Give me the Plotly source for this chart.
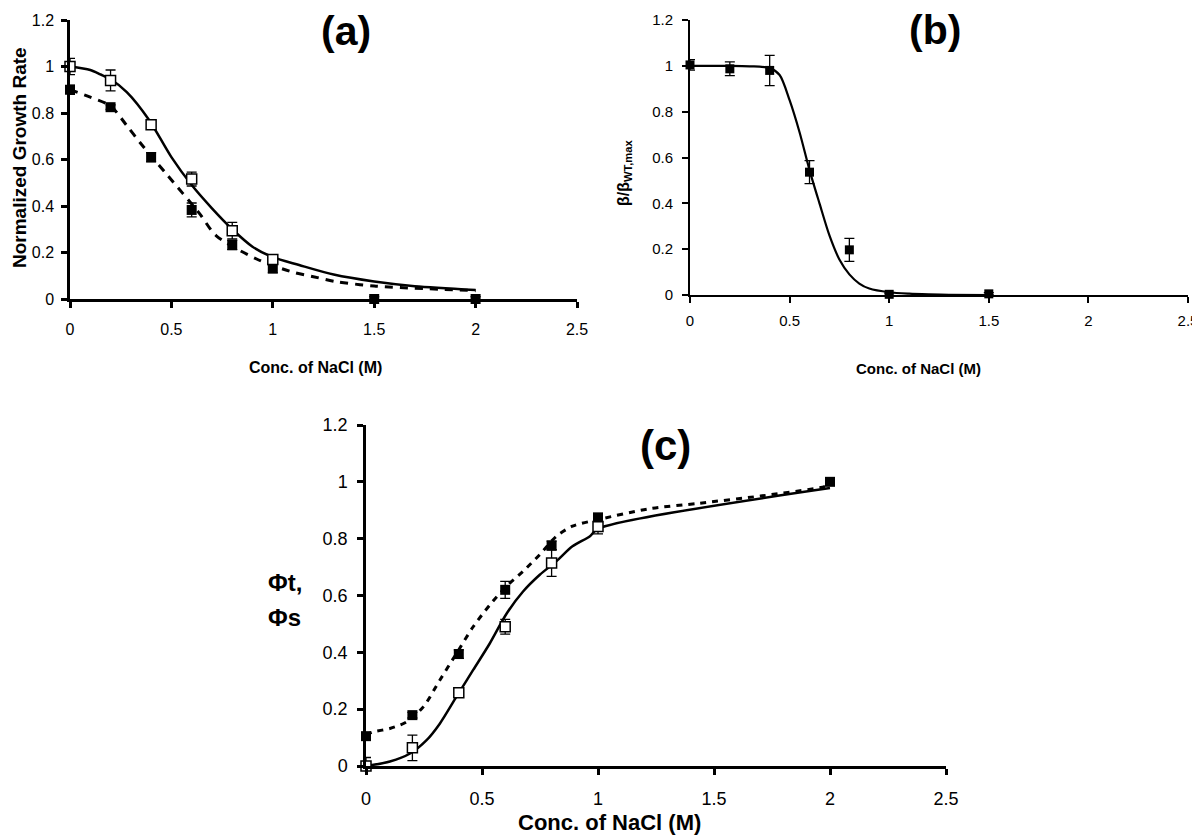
import plotly.graph_objects as go

# ---------------- data ----------------
# Panel (a)
a_x_open = [0, 0.2, 0.4, 0.6, 0.8, 1.0]
a_y_open = [1.0, 0.94, 0.75, 0.516, 0.294, 0.17]
a_e_open = [0.035, 0.045, 0.015, 0.03, 0.036, 0.02]
a_x_fill = [0, 0.2, 0.4, 0.6, 0.8, 1.0, 1.5, 2.0]
a_y_fill = [0.90, 0.825, 0.61, 0.383, 0.232, 0.132, 0.0, 0.0]
a_e_fill = [0.02, 0.01, 0.02, 0.03, 0.02, 0.02, 0.01, 0.01]
a_fit_solid_x = [0, 0.1, 0.15, 0.2, 0.28, 0.39, 0.5, 0.6, 0.7, 0.8, 0.9, 1.0, 1.13, 1.3, 1.5, 1.7, 2.0]
a_fit_solid_y = [1.0, 0.985, 0.966, 0.945, 0.89, 0.77, 0.61, 0.49, 0.39, 0.30, 0.225, 0.18, 0.146, 0.105, 0.075, 0.055, 0.039]
a_fit_dash_x = [0, 0.1, 0.2, 0.28, 0.344, 0.475, 0.64, 0.72, 0.92, 1.1, 1.2, 1.31, 1.5, 2.0]
a_fit_dash_y = [0.90, 0.868, 0.83, 0.746, 0.674, 0.538, 0.366, 0.273, 0.172, 0.115, 0.096, 0.075, 0.056, 0.036]

# Panel (b)
b_x = [0, 0.2, 0.4, 0.6, 0.8, 1.0, 1.5]
b_y = [1.004, 0.987, 0.98, 0.536, 0.197, 0.003, 0.005]
b_e = [0.023, 0.03, 0.066, 0.05, 0.05, 0.005, 0.005]
b_fit_x = [0, 0.2, 0.3, 0.4, 0.45, 0.5, 0.55, 0.6, 0.65, 0.7, 0.75, 0.8, 0.85, 0.9, 1.0, 1.1, 1.2, 1.3, 1.5]
b_fit_y = [1.0, 1.0, 0.998, 0.99, 0.96, 0.85, 0.71, 0.545, 0.40, 0.26, 0.155, 0.09, 0.05, 0.028, 0.012, 0.006, 0.003, 0.001, 0.0]

# Panel (c)
c_x_open = [0, 0.2, 0.4, 0.6, 0.8, 1.0]
c_y_open = [0.0, 0.064, 0.258, 0.49, 0.714, 0.843]
c_e_open = [0.03, 0.045, 0.015, 0.026, 0.047, 0.026]
c_x_fill = [0, 0.2, 0.4, 0.6, 0.8, 1.0, 2.0]
c_y_fill = [0.105, 0.179, 0.394, 0.62, 0.776, 0.875, 1.0]
c_e_fill = [0.01, 0.01, 0.015, 0.03, 0.015, 0.01, 0.01]
c_fit_solid_x = [0, 0.103, 0.19, 0.26, 0.318, 0.39, 0.462, 0.534, 0.605, 0.677, 0.749, 0.82, 0.89, 0.964, 1.0, 2.0]
c_fit_solid_y = [0.0, 0.016, 0.044, 0.09, 0.149, 0.244, 0.338, 0.432, 0.535, 0.614, 0.673, 0.72, 0.773, 0.808, 0.835, 0.978]
c_fit_dot_x = [0, 0.03, 0.103, 0.175, 0.247, 0.318, 0.39, 0.462, 0.534, 0.605, 0.677, 0.749, 0.82, 0.89, 1.0, 1.22, 1.44, 1.7, 1.96, 2.0]
c_fit_dot_y = [0.11, 0.12, 0.132, 0.155, 0.208, 0.302, 0.396, 0.49, 0.567, 0.632, 0.685, 0.744, 0.808, 0.844, 0.867, 0.905, 0.925, 0.95, 0.98, 0.99]

x_ticks = [0, 0.5, 1, 1.5, 2, 2.5]
x_tick_text = ["0", "0.5", "1", "1.5", "2", "2.5"]
y_ticks = [0, 0.2, 0.4, 0.6, 0.8, 1, 1.2]
y_tick_text = ["0", "0.2", "0.4", "0.6", "0.8", "1", "1.2"]

FONT = "Liberation Sans, Arial, Helvetica, sans-serif"
NARROW = "Liberation Sans Narrow, Arial Narrow, Liberation Sans, Arial, sans-serif"

fig = go.Figure()


def curve(x, y, xa, ya, dash="solid", width=2.5):
    fig.add_trace(go.Scatter(x=x, y=y, mode="lines", xaxis=xa, yaxis=ya,
                             line=dict(color="black", width=width, dash=dash, shape="spline", smoothing=0.8),
                             hoverinfo="skip", cliponaxis=False))


def points(x, y, e, xa, ya, open_=False, size=10, cap=5):
    fig.add_trace(go.Scatter(x=x, y=y, mode="markers", xaxis=xa, yaxis=ya,
                             error_y=dict(type="data", array=e, visible=True, color="black",
                                          thickness=1.3, width=cap),
                             marker=dict(symbol="square", size=size,
                                         color="white" if open_ else "black",
                                         line=dict(color="black", width=1.5 if open_ else 0)),
                             cliponaxis=False))


# (a)
curve(a_fit_dash_x, a_fit_dash_y, "x", "y", dash="8px,7px", width=3)
curve(a_fit_solid_x, a_fit_solid_y, "x", "y")
points(a_x_fill, a_y_fill, a_e_fill, "x", "y")
points(a_x_open, a_y_open, a_e_open, "x", "y", open_=True)

# (b)
curve(b_fit_x, b_fit_y, "x2", "y2", width=2.2)
points(b_x, b_y, b_e, "x2", "y2", size=9)

# (c)
curve(c_fit_dot_x, c_fit_dot_y, "x3", "y3", dash="6px,6px", width=3)
curve(c_fit_solid_x, c_fit_solid_y, "x3", "y3", width=2.5)
points(c_x_open, c_y_open, c_e_open, "x3", "y3", open_=True, size=10)
points(c_x_fill, c_y_fill, c_e_fill, "x3", "y3", size=10)


def xaxis(domain, anchor, fs, lw, standoff):
    return dict(domain=domain, anchor=anchor, range=[0, 2.5], tickvals=x_ticks, ticktext=x_tick_text,
                showline=True, linecolor="black", linewidth=lw, ticks="outside", ticklen=6,
                tickwidth=lw, tickcolor="black", showgrid=False, zeroline=False, automargin=False,
                tickfont=dict(family=FONT, size=fs, color="black"), ticklabelstandoff=standoff,
                fixedrange=True)


def yaxis(domain, anchor, fs, lw, standoff):
    return dict(domain=domain, anchor=anchor, range=[0, 1.2], tickvals=y_ticks, ticktext=y_tick_text,
                showline=True, linecolor="black", linewidth=lw, ticks="outside", ticklen=6,
                tickwidth=lw, tickcolor="black", showgrid=False, zeroline=False, automargin=False,
                tickfont=dict(family=FONT, size=fs, color="black"), ticklabelstandoff=standoff,
                fixedrange=True)


W, H = 1200, 836
OFF = 8  # page offset of the figure inside the window


def fx(px):
    return (px - OFF) / W


def fy(py):
    return 1 - (py - OFF) / H


fig.update_layout(
    width=W, height=H, margin=dict(l=0, r=0, t=0, b=0, autoexpand=False),
    paper_bgcolor="white", plot_bgcolor="white", showlegend=False,
    xaxis=xaxis([fx(70), fx(577)], "y", 16, 2.5, 8),
    yaxis=yaxis([fy(299), fy(20)], "x", 16, 2.5, 4),
    xaxis2=xaxis([fx(690), fx(1188)], "y2", 15, 1.8, 5),
    yaxis2=yaxis([fy(295), fy(20)], "x2", 15, 1.8, 6),
    xaxis3=xaxis([fx(366), fx(946)], "y3", 18, 2.5, 9),
    yaxis3=yaxis([fy(766), fy(425)], "x3", 18, 2.5, 6),
)


def ann(text, x, y, size, angle=0, family=FONT, xanchor="center"):
    fig.add_annotation(text=text, x=fx(x), y=fy(y), xref="paper", yref="paper", showarrow=False,
                       textangle=angle, xanchor=xanchor, yanchor="middle",
                       font=dict(family=family, size=size, color="black"))


ann("<b>(a)</b>", 346, 31, 41)
ann("<b>(b)</b>", 935, 30, 41)
ann("<b>(c)</b>", 665, 445, 42)
ann("<b>Conc. of NaCl (M)</b>", 315, 367, 16, family=NARROW)
ann("<b>Conc. of NaCl (M)</b>", 918, 368, 15, family=NARROW)
ann("<b>Conc. of NaCl (M)</b>", 609, 822, 22, family=NARROW)
ann("<b>Normalized Growth Rate</b>", 19, 158, 19, angle=-90, family=NARROW)
ann("<b>β/β<sub>WT,max</sub></b>", 624, 173, 16, angle=-90)
ann("<b>Φt,</b>", 266, 582, 24, xanchor="left")
ann("<b>Φs</b>", 266, 617, 24, xanchor="left")

fig.write_html("out.html")
